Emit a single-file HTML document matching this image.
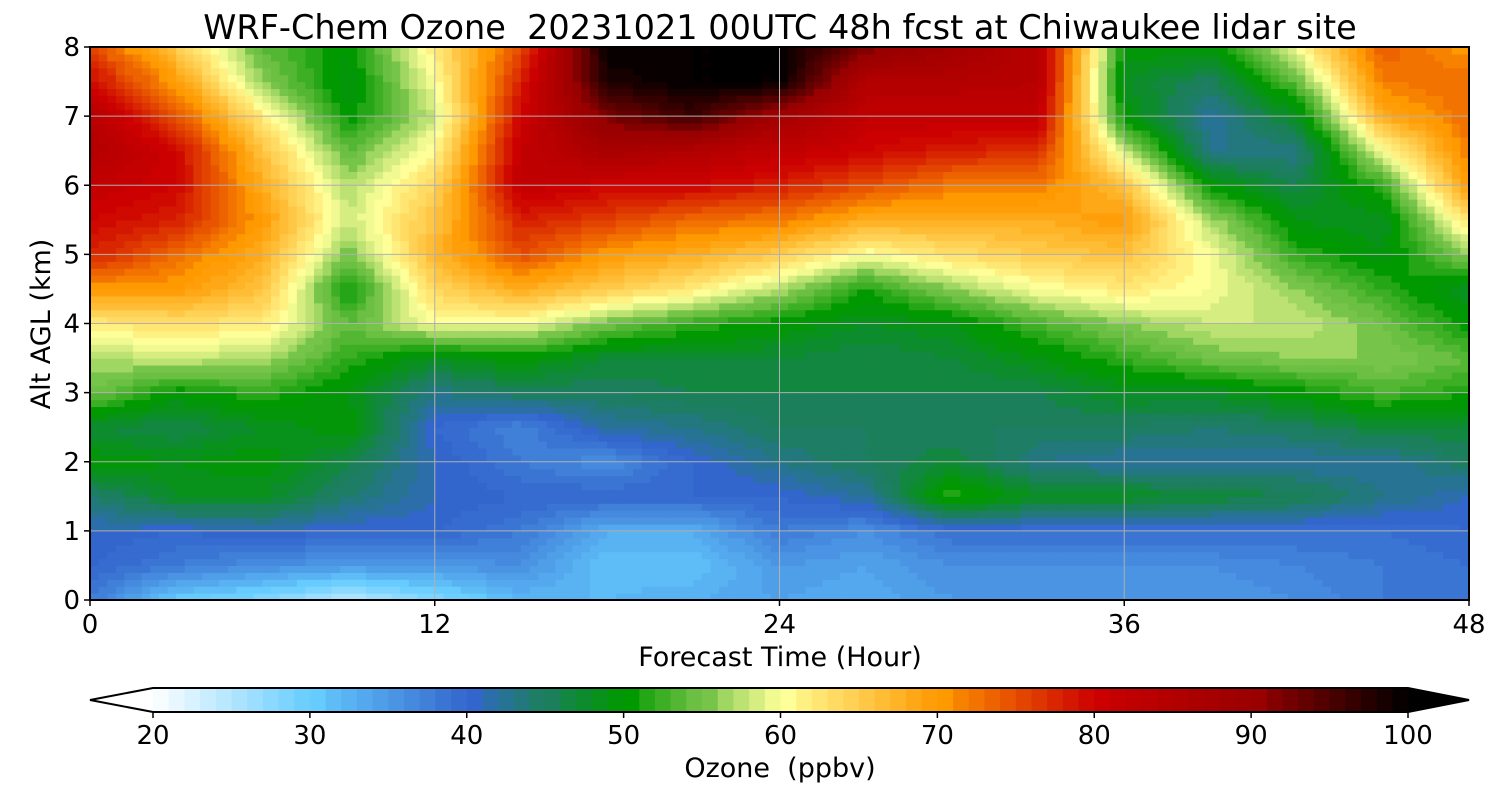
<!DOCTYPE html>
<html><head><meta charset="utf-8"><style>
body{margin:0;background:#fff;font-family:"Liberation Sans","DejaVu Sans",sans-serif;}
svg text{font-family:"DejaVu Sans","Liberation Sans",sans-serif;fill:#000;white-space:pre;}
</style></head><body>
<svg id="chart" width="1500" height="800" viewBox="0 0 1500 800" xmlns="http://www.w3.org/2000/svg">
<text x="780" y="39" font-size="33.5" text-anchor="middle" xml:space="preserve">WRF-Chem Ozone  20231021 00UTC 48h fcst at Chiwaukee lidar site</text>
<g id="cells"></g>
<g id="grid"></g>
<rect x="90" y="47" width="1379" height="553" fill="none" stroke="#000" stroke-width="2"/>
<g id="xt"></g>
<g id="yt"></g>
<text x="780" y="666" font-size="27" text-anchor="middle">Forecast Time (Hour)</text>
<text transform="translate(50,324) rotate(-90)" font-size="27" text-anchor="middle">Alt AGL (km)</text>
<g id="cbar"></g>
<text x="780" y="777" font-size="27" text-anchor="middle" xml:space="preserve">Ozone  (ppbv)</text>
</svg>
<script>
const hours=[0,3,6,9,12,15,18,21,24,27,30,33,36,39,42,45,48];
const alts=[0,0.5,1,1.5,2,2.5,3,3.5,4,4.5,5,5.5,6,6.5,7,7.5,8];
// ozone[hourIndex][altIndex]
const ozone=[
[38,40,41,44,50,47,55,57,62,70,78,80,82,85,84,80,75],
[30,38,40,48,49,46,50,58,63,70,73,78,80,80,75,70,65],
[28,36,41,48,50,48,52,57,62,66,68,70,68,66,62,56,54],
[24,35,40,44,46,50,49,52,54,50,55,58,57,54,50,49,50],
[28,35,40,41,41,40,43,48,60,64,67,66,64,61,58,60,62],
[32,36,38,40,38,37,45,50,60,68,75,78,82,82,80,78,75],
[32,31,33,40,36,42,45,47,55,65,70,76,80,87,92,98,100],
[33,31,33,40,40,43,46,47,52,62,68,73,80,85,96,100,100],
[34,35,38,40,43,45,46,47,50,57,65,72,78,82,88,100,100],
[33,34,36,42,45,45,46,46,48,51,60,68,75,80,82,85,92],
[35,36,39,52,47,45,46,47,49,56,63,68,72,78,82,85,88],
[36,36,39,48,43,45,46,49,53,60,65,68,72,77,82,84,84],
[35,36,39,48,42,45,48,52,56,62,66,70,66,58,50,48,50],
[35,36,39,47,42,44,48,55,58,60,60,57,50,43,42,45,50],
[36,37,39,46,42,45,50,56,58,56,52,49,46,43,48,54,60],
[38,38,39,43,42,47,53,56,55,52,49,48,52,60,68,72,74],
[39,39,40,41,45,47,51,54,50,48,56,63,70,72,73,73,70]];
const xTicks=[0,12,24,36,48];
const yTicks=[0,1,2,3,4,5,6,7,8];
const cbTicks=[20,30,40,50,60,70,80,90,100];
const NS="http://www.w3.org/2000/svg";
const X0=90,X1=1469,Y0=600,Y1=47;
const xs=h=>X0+(h-0)/48*(X1-X0);
const ys=a=>Y0-(a/8)*(Y0-Y1);
const anchors=[[20,[255,255,255]],[30,[102,204,255]],[40,[51,102,204]],[45,[26,127,90]],[50,[0,153,0]],[55,[119,196,74]],[60,[255,255,153]],[70,[255,153,0]],[80,[204,0,0]],[90,[153,0,0]],[100,[0,0,0]]];
function color(v){
  v=Math.floor(v);
  if(v<20)v=20; if(v>=100)return "rgb(0,0,0)";
  for(let i=0;i<anchors.length-1;i++){const a=anchors[i],b=anchors[i+1];
    if(v>=a[0]&&v<=b[0]){const t=(v+0.5-a[0])/(b[0]-a[0]);
      const c=a[1].map((x,k)=>Math.round(x+(b[1][k]-x)*Math.min(t,1)));return `rgb(${c})`;}}
  return "#000";
}
function mk(tag,attrs,parent){const e=document.createElementNS(NS,tag);for(const k in attrs)e.setAttribute(k,attrs[k]);parent.appendChild(e);return e;}
function val(h,a){
  let i=0;while(i<hours.length-2&&h>hours[i+1])i++;
  let j=0;while(j<alts.length-2&&a>alts[j+1])j++;
  const tx=(h-hours[i])/(hours[i+1]-hours[i]),ty=(a-alts[j])/(alts[j+1]-alts[j]);
  return ozone[i][j]*(1-tx)*(1-ty)+ozone[i+1][j]*tx*(1-ty)+ozone[i][j+1]*(1-tx)*ty+ozone[i+1][j+1]*tx*ty;
}
const cells=document.getElementById('cells');
const NX=160,NY=80,dh=48/NX,da=8/NY;
for(let i=0;i<NX;i++)for(let j=0;j<NY;j++){
  const h=(i+0.5)*dh,a=(j+0.5)*da;
  const x=xs(i*dh),y=ys((j+1)*da);
  const r=mk('rect',{x:x.toFixed(2),y:y.toFixed(2),width:(xs(dh)-X0+0.6).toFixed(2),height:(ys(0)-ys(da)+0.6).toFixed(2),fill:color(val(h,a))},cells);
  
  
}
const grid=document.getElementById('grid'),xt=document.getElementById('xt'),yt=document.getElementById('yt');
xTicks.forEach(t=>{const x=xs(t);
  const l=mk('line',{x1:x,x2:x,y1:Y1,y2:Y0,stroke:'#b0b0b0','stroke-width':1},grid);
  
  mk('line',{x1:x,x2:x,y1:Y0,y2:Y0+6,stroke:'#000','stroke-width':1.5},xt);
  const tx=mk('text',{x:x,y:633,'font-size':26,'text-anchor':'middle'},xt);tx.textContent=t;
  });
yTicks.forEach(t=>{const y=ys(t);
  const l=mk('line',{x1:X0,x2:X1,y1:y,y2:y,stroke:'#b0b0b0','stroke-width':1},grid);
  
  mk('line',{x1:X0-6,x2:X0,y1:y,y2:y,stroke:'#000','stroke-width':1.5},yt);
  const tx=mk('text',{x:80,y:y+9,'font-size':26,'text-anchor':'end'},yt);tx.textContent=t;
  });
const cb=document.getElementById('cbar');
const C0=153,C1=1408,CY=688,CH=24,cx=v=>C0+(v-20)/80*(C1-C0);
mk('polygon',{points:`${C0},${CY} 90,${CY+CH/2} ${C0},${CY+CH}`,fill:'#fff'},cb);
mk('polygon',{points:`${C1},${CY} 1469,${CY+CH/2} ${C1},${CY+CH}`,fill:'#000'},cb);
for(let v=20;v<100;v++){const r=mk('rect',{x:cx(v),y:CY,width:cx(v+1)-cx(v)+0.5,height:CH,fill:color(v)},cb);
  }
mk('polygon',{points:`${C0},${CY} ${C1},${CY} 1469,${CY+CH/2} ${C1},${CY+CH} ${C0},${CY+CH} 90,${CY+CH/2}`,fill:'none',stroke:'#000','stroke-width':2},cb);
cbTicks.forEach(t=>{const x=cx(t);mk('line',{x1:x,x2:x,y1:CY+CH,y2:CY+CH+6,stroke:'#000','stroke-width':1.5},cb);
  const tx=mk('text',{x:x,y:744,'font-size':26,'text-anchor':'middle'},cb);tx.textContent=t;
  });
</script>
</body></html>
